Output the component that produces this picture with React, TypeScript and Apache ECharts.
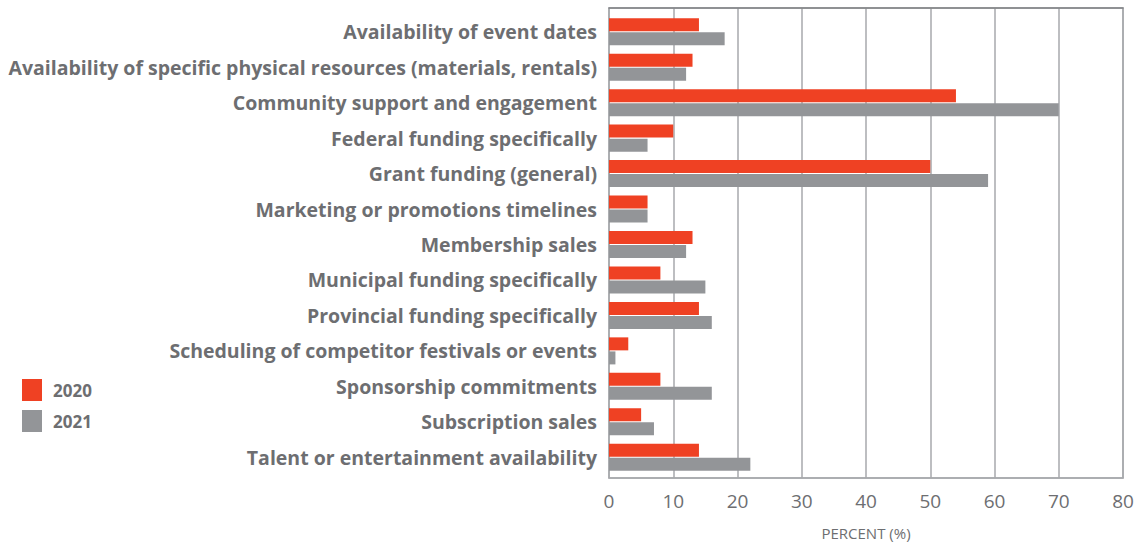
import React, { useEffect, useRef } from "react";
import * as echarts from "echarts";

const categories = [
  "Availability of event dates",
  "Availability of specific physical resources (materials, rentals)",
  "Community support and engagement",
  "Federal funding specifically",
  "Grant funding (general)",
  "Marketing or promotions timelines",
  "Membership sales",
  "Municipal funding specifically",
  "Provincial funding specifically",
  "Scheduling of competitor festivals or events",
  "Sponsorship commitments",
  "Subscription sales",
  "Talent or entertainment availability",
];
const values2020 = [14, 13, 54, 10, 50, 6, 13, 8, 14, 3, 8, 5, 14];
const values2021 = [18, 12, 70, 6, 59, 6, 12, 15, 16, 1, 16, 7, 22];
const xTicks = { min: 0, max: 80, interval: 10 };

export default function App() {
  const ref = useRef<HTMLDivElement>(null);
  useEffect(() => {
    if (!ref.current) return;
    const chart = echarts.init(ref.current, null, { renderer: "svg" });
    const font = "'Open Sans', 'Noto Sans', sans-serif";
    chart.setOption({
      animation: false,
      textStyle: { fontFamily: font },
      grid: [
        {
          left: 609,
          right: 23,
          top: 8,
          bottom: 65,
          outerBoundsMode: "none",
          containLabel: false,
          show: true,
          borderColor: "#a7a9ac",
          borderWidth: 1.5,
        },
        {
          left: 609,
          right: 23,
          top: 14,
          bottom: 68,
          outerBoundsMode: "none",
          containLabel: false,
        },
      ],
      legend: {
        orient: "vertical",
        left: 22,
        top: 379,
        padding: 0,
        itemWidth: 20,
        itemHeight: 22,
        itemGap: 9,
        icon: "rect",
        data: ["2020", "2021"],
        textStyle: {
          fontFamily: font,
          fontSize: 17,
          fontWeight: "bold",
          color: "#6d6e71",
          padding: [0, 0, 0, 6],
        },
      },
      xAxis: [
        {
          gridIndex: 0,
          type: "value",
          min: xTicks.min,
          max: xTicks.max,
          interval: xTicks.interval,
          name: "PERCENT (%)",
          nameLocation: "middle",
          nameGap: 47,
          nameTextStyle: { fontFamily: font, fontSize: 15, color: "#6d6e71" },
          axisLine: { show: true, lineStyle: { color: "#a7a9ac", width: 1.5 } },
          axisTick: { show: false },
          axisLabel: { fontFamily: font, fontSize: 19, color: "#6d6e71", margin: 13 },
          splitLine: { show: true, lineStyle: { color: "#a7a9ac", width: 1.5 } },
        },
        {
          gridIndex: 0,
          type: "value",
          position: "top",
          min: xTicks.min,
          max: xTicks.max,
          interval: xTicks.interval,
          axisLine: { show: true, lineStyle: { color: "#808285", width: 1.5 } },
          axisTick: { show: false },
          axisLabel: { show: false },
          splitLine: { show: false },
        },
        {
          gridIndex: 1,
          type: "value",
          min: xTicks.min,
          max: xTicks.max,
          interval: xTicks.interval,
          show: false,
          splitLine: { show: false },
        },
      ],
      yAxis: [
        {
          gridIndex: 0,
          type: "value",
          show: false,
          splitLine: { show: false },
        },
        {
          gridIndex: 1,
          type: "category",
          inverse: true,
          data: categories,
          axisLine: { show: false },
          axisTick: { show: false },
          axisLabel: {
            fontFamily: font,
            fontSize: 19.5,
            fontWeight: "bold",
            color: "#6d6e71",
            margin: 12,
          },
          splitLine: { show: false },
        },
      ],
      series: [
        {
          name: "2020",
          type: "bar",
          xAxisIndex: 2,
          yAxisIndex: 1,
          data: values2020,
          barWidth: 13,
          barGap: "8%",
          itemStyle: { color: "#ef4123" },
        },
        {
          name: "2021",
          type: "bar",
          xAxisIndex: 2,
          yAxisIndex: 1,
          data: values2021,
          barWidth: 13,
          barGap: "8%",
          itemStyle: { color: "#939598" },
        },
      ],
    });
    return () => chart.dispose();
  }, []);
  return (
    <div
      ref={ref}
      style={{ position: "absolute", left: 0, top: 0, width: 1146, height: 543 }}
    />
  );
}
